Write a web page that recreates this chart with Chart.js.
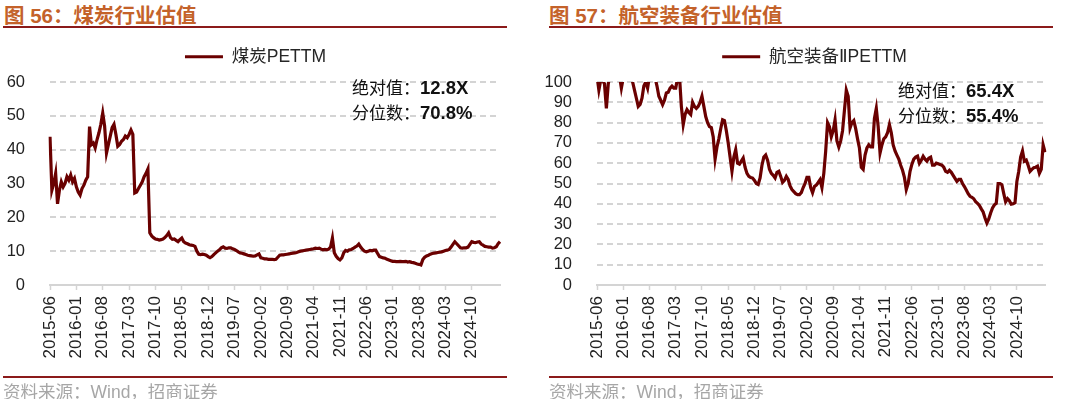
<!DOCTYPE html>
<html>
<head>
<meta charset="utf-8">
<script src="https://cdn.jsdelivr.net/npm/chart.js@4.4.1/dist/chart.umd.min.js"></script>
<style>
  body { margin: 0; background: #fff; width: 1080px; height: 399px; overflow: hidden; position: relative;
         font-family: 'Liberation Sans', Arial, 'Noto Sans CJK SC', sans-serif; }
  .panel { position: absolute; top: 0; width: 540px; height: 399px; }
  .panel canvas { position: absolute; left: 0; top: 0; }
  .title { position: absolute; top: -1px; font-size: 20.5px; font-weight: bold; color: #c4622a; white-space: nowrap; }
  .rule { position: absolute; width: 504px; height: 2px; background: #8b1a1a; }
  .src { position: absolute; top: 378px; font-size: 17.5px; color: #a6a6a6; white-space: nowrap; }
  .note { position: absolute; font-size: 17px; color: #111; line-height: 24px; white-space: nowrap; }
  .note b { font-size: 18.5px; }
</style>
</head>
<body>
<div class="panel" style="left:0">
  <div class="title" style="left:4px">图 56：煤炭行业估值</div>
  <div class="rule" style="left:3px;top:26px"></div>
  <canvas id="coal" width="540" height="399"></canvas>
  <div class="note" style="left:352px;top:76px">绝对值：<b>12.8X</b><br>分位数：<b>70.8%</b></div>
  <div class="rule" style="left:3px;top:376px"></div>
  <div class="src" style="left:3px">资料来源：Wind，招商证券</div>
</div>
<div class="panel" style="left:540px">
  <div class="title" style="left:9px">图 57：航空装备行业估值</div>
  <div class="rule" style="left:9px;top:26px"></div>
  <canvas id="aero" width="540" height="399"></canvas>
  <div class="note" style="left:358px;top:79px">绝对值：<b>65.4X</b><br>分位数：<b>55.4%</b></div>
  <div class="rule" style="left:9px;top:376px"></div>
  <div class="src" style="left:9px">资料来源：Wind，招商证券</div>
</div>

<script>
// half-monthly points, 2015-06 .. 2025-05
const categories = [];
for (let i = 0; i < 240; i++) {
  const m = 5 + Math.floor(i / 2);
  const yr = 2015 + Math.floor(m / 12);
  categories.push(yr + '-' + String(m % 12 + 1).padStart(2, '0') + (i % 2 ? '-16' : '-01'));
}
const tickLabels = ['2015-06', '2016-01', '2016-08', '2017-03', '2017-10', '2018-05', '2018-12', '2019-07',
  '2020-02', '2020-09', '2021-04', '2021-11', '2022-06', '2023-01', '2023-08', '2024-03', '2024-10'];
const tickStep = 14;

const coalPE = [
  43.8, 28, 30, 33, 24, 28, 30.5, 29, 30, 32, 31, 32.5, 30.5, 31.5, 29, 27.5, 26.6, 28.5, 29.5, 31,
  32, 46.8, 41.5, 42, 40.5, 43, 45, 47.5, 50.8, 47, 39, 41.5, 44, 46.5, 47.5, 44.5, 41, 41.5, 42.5, 43,
  44, 43.5, 44.5, 45.8, 44.5, 27.2, 27.5, 28.5, 29.5, 30.5, 32, 33, 34.3, 15.4, 14.5, 14, 13.6, 13.5, 13.3, 13.4,
  13.6, 14, 14.6, 15.4, 14, 13.5, 13.6, 13.2, 12.8, 13.4, 13.9, 12.8, 12.4, 12.2, 11.9, 11.8, 11.7, 11.4, 10, 9.1,
  9, 9.1, 9, 8.8, 8.4, 8.1, 8.4, 9, 9.5, 10, 10.4, 11, 11.3, 10.9, 10.8, 11, 11, 10.7, 10.5, 10.2,
  9.8, 9.5, 9.4, 9.2, 9, 8.8, 8.7, 8.6, 8.5, 8.6, 8.9, 9.2, 8, 7.9, 7.7, 7.7, 7.6, 7.6, 7.6, 7.5,
  7.6, 8.2, 8.8, 8.9, 8.9, 9, 9.1, 9.2, 9.3, 9.4, 9.5, 9.6, 9.8, 10, 10.1, 10.2, 10.3, 10.4, 10.5, 10.6,
  10.7, 10.9, 10.8, 10.9, 10.6, 10.4, 10.5, 10.4, 10.6, 11.2, 13.9, 9.5, 8.5, 7.8, 7.4, 8, 9.5, 10.2, 10, 10.4,
  10.5, 10.8, 11.2, 11.5, 12.1, 11.2, 10.5, 10, 9.8, 10, 10.2, 10.1, 10.3, 10.3, 9.3, 8.4, 8.2, 8, 7.9, 7.6,
  7.4, 7.2, 7, 7, 6.9, 6.9, 7, 6.9, 6.9, 7, 6.8, 6.9, 6.7, 6.6, 6.4, 6.2, 6.1, 5.9, 7.5, 8.2,
  8.6, 8.8, 9.1, 9.3, 9.4, 9.5, 9.6, 9.7, 9.8, 10, 10.2, 10.3, 10.5, 11.2, 12, 12.8, 12.2, 11.6, 11, 10.9,
  11, 11, 11.2, 12, 12.8, 12.6, 12.5, 12.7, 12.8, 12.1, 11.8, 11.4, 11.3, 11.2, 11.2, 10.9, 11, 11.3, 12.2, 12.8
];

const aeroPE = [
  103, 96, 101, 101, 99, 87, 99, 104, 105, 106, 106, 104, 103, 97, 102, 104, 105, 104, 103, 100,
  96, 92, 88, 89, 92, 98, 100, 97, 103, 104, 103, 102, 98, 93, 91, 88.8, 91, 94.6, 95, 97,
  98, 97, 97, 102, 103, 88, 79, 84, 86.4, 85, 84, 90, 88, 87, 88, 90, 93, 88, 83, 80,
  78, 77.5, 73, 62, 68, 72, 77, 81.4, 81, 76, 70, 63, 56, 63, 66.7, 60, 59.5, 61, 62.5, 58,
  55, 53.5, 53, 52.7, 51.5, 50, 49.5, 52.7, 59, 63, 64, 61.5, 57, 55, 54, 52.7, 55.5, 56, 53.5, 50.5,
  51.5, 53.5, 52, 48.8, 47, 46, 45, 44.5, 44.5, 45.5, 48, 50, 53, 53, 48, 45.5, 48.5, 49.2, 50.5, 51.9,
  48, 55, 66, 80, 78, 73, 76, 81.4, 71, 68, 71, 76, 86, 96, 93, 77.3, 80, 81, 77, 72,
  67.5, 58, 57, 64, 67.5, 69, 68, 68, 82, 87, 78, 65, 69, 72, 73, 75, 79, 75, 69, 66,
  64, 62, 59, 56.5, 53, 47, 50, 56, 59.5, 62, 63, 63.5, 60, 61.5, 63.4, 62, 61, 62.5, 63, 59,
  59, 60, 59.7, 59.3, 59, 58, 56, 55.5, 56.5, 55.5, 54, 52.5, 51, 52, 52, 50, 48.5, 46.8, 45, 43.7,
  43.2, 42.5, 41, 40.2, 39.2, 37.5, 36, 33, 30.5, 32.5, 35.5, 38, 39.5, 40.2, 50, 50, 49.4, 45, 41, 42.5,
  41.5, 39.8, 40, 40.5, 51, 56, 63, 66, 61, 61.5, 59, 56, 57, 57.8, 58, 58.5, 55, 57, 69, 65.4
];

const lineColor = '#6a0000';
Chart.defaults.font.family = "'Liberation Sans', Arial, 'DejaVu Sans', 'Noto Sans CJK SC', sans-serif";
Chart.defaults.color = '#222';

// legend: extra gap below it, and a sideways nudge to sit where the original has it
function legendTweak(shift) {
  return {
    id: 'legendTweak',
    beforeInit(chart) {
      const fit = chart.legend.fit;
      chart.legend.fit = function () { fit.call(this); this.height += 6.5; };
    },
    afterLayout(chart) {
      chart.legend.left += shift;
      chart.legend.right += shift;
    }
  };
}

// dashed horizontal grid at every y tick
const dashedGrid = {
  id: 'dashedGrid',
  beforeDatasetsDraw(chart) {
    const { ctx, chartArea } = chart;
    const y = chart.scales.y;
    ctx.save();
    ctx.strokeStyle = '#d4d4d4';
    ctx.lineWidth = 2;
    ctx.setLineDash([6, 4]);
    y.ticks.forEach(t => {
      if (t.value === y.min) return;
      const py = Math.round(y.getPixelForValue(t.value));
      ctx.beginPath();
      ctx.moveTo(chartArea.left, py);
      ctx.lineTo(chartArea.right, py);
      ctx.stroke();
    });
    ctx.restore();
  }
};

function makeChart(id, name, values, yMax, padRight, yWidth, shift) {
  return new Chart(document.getElementById(id), {
    type: 'line',
    data: {
      labels: categories,
      datasets: [{
        label: name,
        data: values,
        borderColor: lineColor,
        backgroundColor: lineColor,
        borderWidth: 3.2,
        pointRadius: 0,
        tension: 0
      }]
    },
    options: {
      responsive: false,
      animation: false,
      layout: { padding: { left: 0, right: padRight, top: 38, bottom: 0 } },
      plugins: {
        legend: {
          position: 'top',
          labels: {
            boxWidth: 38,
            boxHeight: 3,
            padding: 10,
            color: '#262626',
            font: { size: 17.5 },
            generateLabels(chart) {
              const items = Chart.defaults.plugins.legend.labels.generateLabels(chart);
              items.forEach(it => { it.lineWidth = 0; it.fillStyle = lineColor; });
              return items;
            }
          }
        },
        tooltip: { enabled: false }
      },
      scales: {
        x: {
          afterFit(axis) { axis.height = 114; },
          afterBuildTicks(axis) { axis.ticks = axis.ticks.filter(t => t.value % tickStep === 0); },
          grid: { drawOnChartArea: false, drawTicks: true, tickLength: 5, tickColor: '#d4d4d4', tickWidth: 1.5 },
          border: { color: '#d4d4d4', width: 2 },
          ticks: {
            autoSkip: false,
            maxRotation: 90,
            minRotation: 90,
            padding: 6,
            color: '#222',
            font: { size: 17 },
            callback(value) { return tickLabels[value / tickStep]; }
          }
        },
        y: {
          min: 0,
          max: yMax,
          afterFit(axis) { axis.width = yWidth; },
          grid: { display: false },
          border: { display: false },
          ticks: { stepSize: 10, autoSkip: false, padding: 17, color: '#222', font: { size: 16.5 } }
        }
      }
    },
    plugins: [legendTweak(shift), dashedGrid]
  });
}

makeChart('coal', '煤炭PETTM', coalPE, 60, 40, 50, 5.5);
makeChart('aero', '航空装备ⅡPETTM', aeroPE, 100, 35, 57, 22);
</script>
</body>
</html>
